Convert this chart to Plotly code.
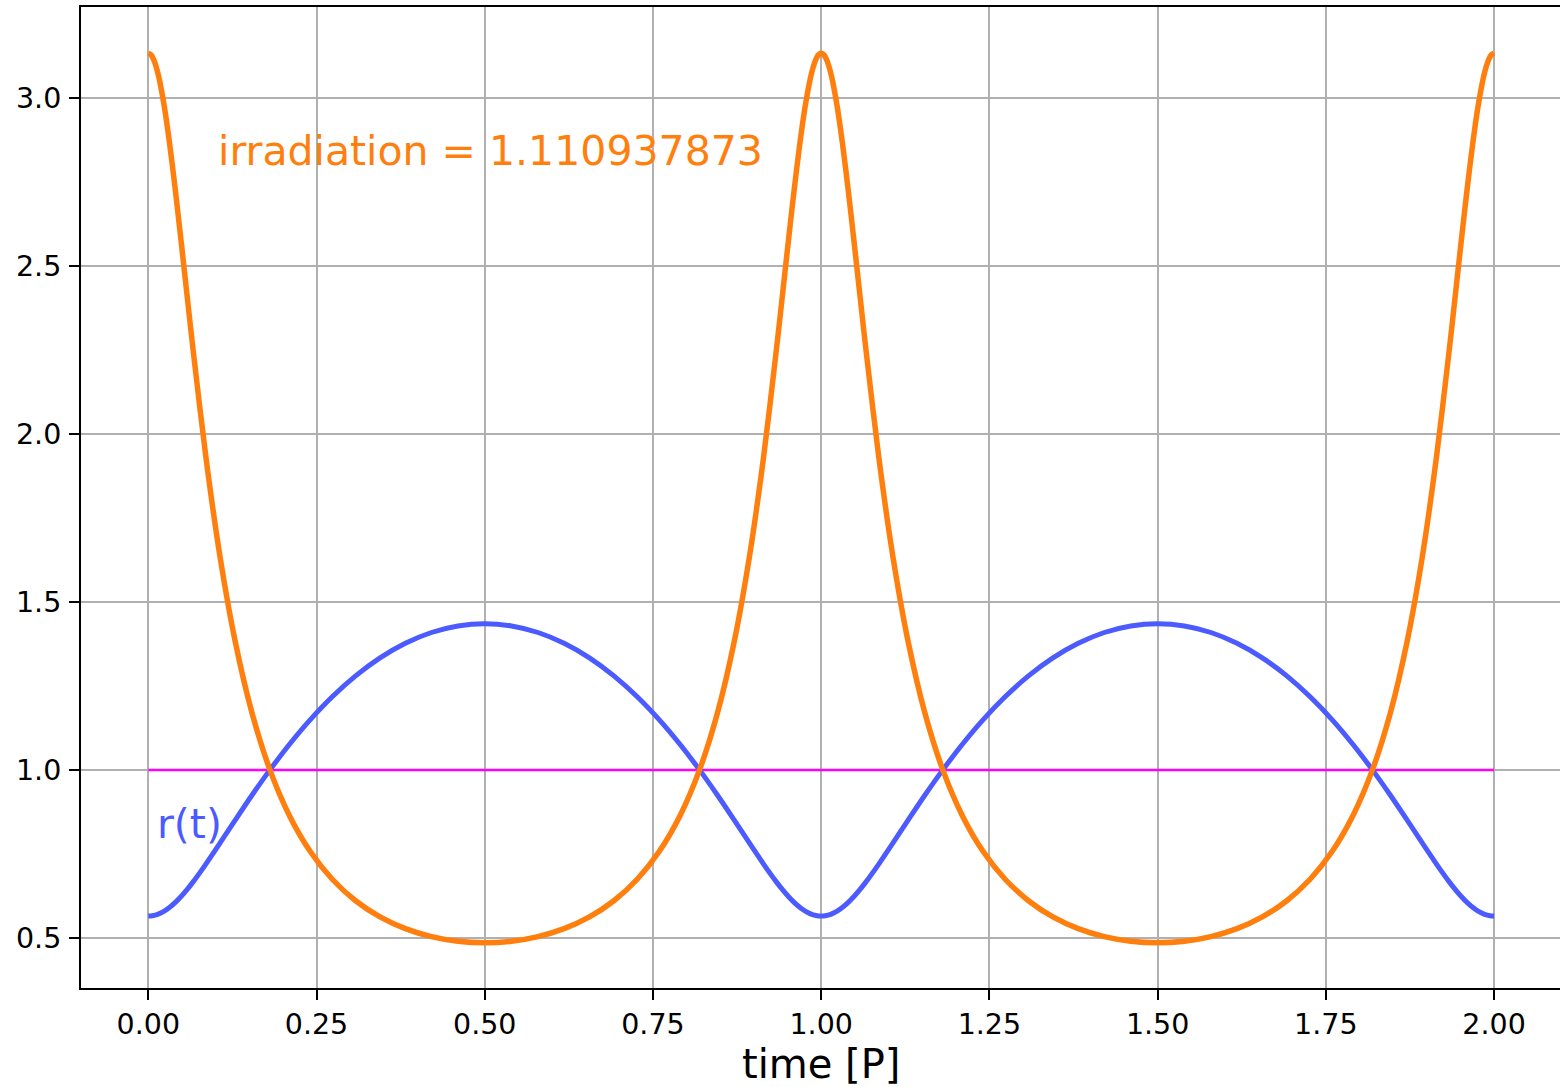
import plotly.graph_objects as go

# time in units of the orbital period P (two periods)
time_p = [0.0, 0.00392, 0.00785, 0.01180, 0.01576, 0.02375, 0.03188, 0.04019, 0.04872, 0.05751,
          0.06661, 0.08585, 0.10671, 0.12939, 0.15404, 0.18077, 0.20960, 0.24050, 0.27338,
          0.30808, 0.34439, 0.38205, 0.42077, 0.46020, 0.5,
          0.53980, 0.57923, 0.61795, 0.65561, 0.69192, 0.72662, 0.75950, 0.79040, 0.81923,
          0.84596, 0.87061, 0.89329, 0.91415, 0.93339, 0.94249, 0.95128, 0.95981, 0.96812,
          0.97625, 0.98424, 0.98820, 0.99215, 0.99608, 1.0,
          1.00392, 1.00785, 1.01180, 1.01576, 1.02375, 1.03188, 1.04019, 1.04872, 1.05751,
          1.06661, 1.08585, 1.10671, 1.12939, 1.15404, 1.18077, 1.20960, 1.24050, 1.27338,
          1.30808, 1.34439, 1.38205, 1.42077, 1.46020, 1.5,
          1.53980, 1.57923, 1.61795, 1.65561, 1.69192, 1.72662, 1.75950, 1.79040, 1.81923,
          1.84596, 1.87061, 1.89329, 1.91415, 1.93339, 1.94249, 1.95128, 1.95981, 1.96812,
          1.97625, 1.98424, 1.98820, 1.99215, 1.99608, 2.0]

# orbital distance r(t)
r_values = [0.5650, 0.5654, 0.5667, 0.5687, 0.5716, 0.5798, 0.5912, 0.6058, 0.6233, 0.6437,
            0.6668, 0.7204, 0.7825, 0.8512, 0.9245, 1.0000, 1.0755, 1.1488, 1.2175,
            1.2796, 1.3332, 1.3767, 1.4088, 1.4284, 1.4350,
            1.4284, 1.4088, 1.3767, 1.3332, 1.2796, 1.2175, 1.1488, 1.0755, 1.0000,
            0.9245, 0.8512, 0.7825, 0.7204, 0.6668, 0.6437, 0.6233, 0.6058, 0.5912,
            0.5798, 0.5716, 0.5687, 0.5667, 0.5654, 0.5650,
            0.5654, 0.5667, 0.5687, 0.5716, 0.5798, 0.5912, 0.6058, 0.6233, 0.6437,
            0.6668, 0.7204, 0.7825, 0.8512, 0.9245, 1.0000, 1.0755, 1.1488, 1.2175,
            1.2796, 1.3332, 1.3767, 1.4088, 1.4284, 1.4350,
            1.4284, 1.4088, 1.3767, 1.3332, 1.2796, 1.2175, 1.1488, 1.0755, 1.0000,
            0.9245, 0.8512, 0.7825, 0.7204, 0.6668, 0.6437, 0.6233, 0.6058, 0.5912,
            0.5798, 0.5716, 0.5687, 0.5667, 0.5654, 0.5650]

# irradiation
irr_values = [3.1326, 3.1280, 3.1143, 3.0917, 3.0606, 2.9745, 2.8608, 2.7252, 2.5742, 2.4136,
              2.2493, 1.9269, 1.6332, 1.3801, 1.1701, 1.0000, 0.8645, 0.7578, 0.6746,
              0.6107, 0.5626, 0.5276, 0.5039, 0.4901, 0.4856,
              0.4901, 0.5039, 0.5276, 0.5626, 0.6107, 0.6746, 0.7578, 0.8645, 1.0000,
              1.1701, 1.3801, 1.6332, 1.9269, 2.2493, 2.4136, 2.5742, 2.7252, 2.8608,
              2.9745, 3.0606, 3.0917, 3.1143, 3.1280, 3.1326,
              3.1280, 3.1143, 3.0917, 3.0606, 2.9745, 2.8608, 2.7252, 2.5742, 2.4136,
              2.2493, 1.9269, 1.6332, 1.3801, 1.1701, 1.0000, 0.8645, 0.7578, 0.6746,
              0.6107, 0.5626, 0.5276, 0.5039, 0.4901, 0.4856,
              0.4901, 0.5039, 0.5276, 0.5626, 0.6107, 0.6746, 0.7578, 0.8645, 1.0000,
              1.1701, 1.3801, 1.6332, 1.9269, 2.2493, 2.4136, 2.5742, 2.7252, 2.8608,
              2.9745, 3.0606, 3.0917, 3.1143, 3.1280, 3.1326]

# reference level
ref_time = [0.0, 2.0]
ref_values = [1.0, 1.0]

x_ticks = [0.0, 0.25, 0.5, 0.75, 1.0, 1.25, 1.5, 1.75, 2.0]
x_tick_labels = ["0.00", "0.25", "0.50", "0.75", "1.00", "1.25", "1.50", "1.75", "2.00"]
y_ticks = [0.5, 1.0, 1.5, 2.0, 2.5, 3.0]
y_tick_labels = ["0.5", "1.0", "1.5", "2.0", "2.5", "3.0"]

x_title = "time [P]"
irr_label = "irradiation = 1.110937873"
r_label = "r(t)"

ORANGE = "#ff7f0e"
BLUE = "#4c5bff"
MAGENTA = "#ff00ff"
FONT = "DejaVu Sans"

fig = go.Figure()
fig.add_trace(go.Scatter(x=ref_time, y=ref_values, mode="lines",
                         line=dict(color=MAGENTA, width=2.5), showlegend=False))
fig.add_trace(go.Scatter(x=time_p, y=r_values, mode="lines",
                         line=dict(color=BLUE, width=5, shape="spline", smoothing=0.8),
                         showlegend=False))
fig.add_trace(go.Scatter(x=time_p, y=irr_values, mode="lines",
                         line=dict(color=ORANGE, width=5.5, shape="spline", smoothing=0.8),
                         showlegend=False))

fig.add_annotation(x=0.1, y=2.842, text=irr_label, showarrow=False,
                   xanchor="left", yanchor="middle",
                   font=dict(family=FONT, size=41, color=ORANGE))
fig.add_annotation(x=0.01, y=0.84, text=r_label, showarrow=False,
                   xanchor="left", yanchor="middle",
                   font=dict(family=FONT, size=41, color=BLUE))
# x-axis title placed as paper annotation so the plot area keeps its size
fig.add_annotation(x=0.5, y=-0.077, xref="paper", yref="paper", text=x_title,
                   showarrow=False, xanchor="center", yanchor="middle",
                   font=dict(family=FONT, size=40, color="black"))

fig.update_layout(
    width=1560, height=1087,
    margin=dict(l=81, r=0, t=7, b=99),
    paper_bgcolor="white", plot_bgcolor="white",
    font=dict(family=FONT, color="black"),
)
fig.update_xaxes(
    range=[-0.1, 2.098], tickvals=x_ticks, ticktext=x_tick_labels,
    showgrid=True, gridcolor="#b0b0b0", gridwidth=2,
    showline=True, linecolor="black", linewidth=2, mirror=True,
    ticks="outside", ticklen=10, tickwidth=2, tickcolor="black",
    tickfont=dict(family=FONT, size=28.5, color="black"),
    automargin=False,
    zeroline=False,
)
fig.update_yaxes(
    range=[0.351, 3.27], tickvals=y_ticks, ticktext=y_tick_labels,
    showgrid=True, gridcolor="#b0b0b0", gridwidth=2,
    showline=True, linecolor="black", linewidth=2, mirror=False,
    ticks="outside", ticklen=10, tickwidth=2, tickcolor="black",
    tickfont=dict(family=FONT, size=28.5, color="black"),
    ticklabelstandoff=2,
    automargin=False,
    zeroline=False,
)

fig.write_html("out.html")
